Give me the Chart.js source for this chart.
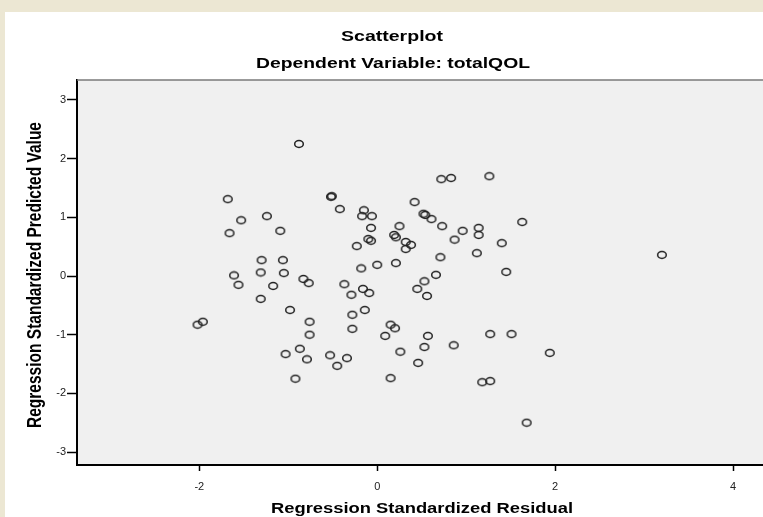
<!DOCTYPE html>
<html>
<head>
<meta charset="utf-8">
<script src="https://cdn.jsdelivr.net/npm/chart.js@4/dist/chart.umd.min.js"></script>
<style>
  body { margin: 0; background: #ece7d3; }
  #sheet { position: absolute; left: 5px; top: 12px; width: 758px; height: 505px; background: #fff; }
  #wrap { position: absolute; left: 0; top: 0; width: 763px; height: 517px; overflow: hidden; }
</style>
</head>
<body>
<div id="sheet"></div>
<div id="wrap"><canvas id="chart" width="775" height="517"></canvas></div>
<script>
// standardized residual (x) vs standardized predicted value (y)
const residuals = [
  -0.88, -1.68, -1.53, -1.66, -1.24, -1.09, -1.30, -1.06, -1.61, -1.31,
  -1.05, -1.56, -1.17, -1.31, -0.83, -0.77, -0.98, -2.02, -1.96, -0.76,
  -0.76, -0.87, -1.03, -0.79, -0.92, -0.52, -0.51, -0.42, -0.15, -0.17,
  -0.06, -0.07, 0.19, 0.21, -0.10, -0.07, -0.23, 0.25, 0.32, 0.38,
  0.32, 0.42, 0.52, 0.54, 0.61, 0.73, 0.72, 0.83, 1.26, 0.96,
  0.87, 1.14, 1.14, 1.12, 1.40, 1.63, 0.71, 0.00, -0.18, 0.21,
  1.45, 0.66, -0.37, -0.16, -0.09, -0.29, 0.53, 0.45, 0.56, -0.28,
  -0.14, -0.28, 0.15, 0.20, 0.09, 0.57, 0.53, 0.86, 1.27, 1.51,
  1.94, 0.26, 0.46, -0.53, -0.34, -0.45, 0.15, 1.18, 1.27, 1.68,
  3.20
]
const predicted = [
  2.25, 1.31, 0.95, 0.73, 1.02, 0.77, 0.27, 0.27, 0.01, 0.06,
  0.05, -0.15, -0.17, -0.39, -0.05, -0.12, -0.58, -0.83, -0.78, -0.78,
  -1.00, -1.24, -1.33, -1.42, -1.75, 1.35, 1.36, 1.14, 1.12, 1.02,
  1.02, 0.82, 0.70, 0.66, 0.63, 0.60, 0.51, 0.85, 0.58, 0.53,
  0.46, 1.26, 1.06, 1.04, 0.97, 0.85, 1.65, 1.67, 1.70, 0.77,
  0.62, 0.82, 0.70, 0.39, 0.56, 0.92, 0.32, 0.19, 0.13, 0.22,
  0.07, 0.02, -0.14, -0.22, -0.29, -0.32, -0.09, -0.22, -0.34, -0.66,
  -0.58, -0.90, -0.83, -0.89, -1.02, -1.02, -1.21, -1.18, -0.99, -0.99,
  -1.31, -1.29, -1.48, -1.35, -1.40, -1.53, -1.74, -1.81, -1.79, -2.50,
  0.36
]
const xTicks = [-2, 0, 2, 4]
const yTicks = [-3, -2, -1, 0, 1, 2, 3]

const points = residuals.map((x, i) => ({ x: x, y: predicted[i] }))
const font = "'Liberation Sans', Arial, sans-serif"

// the source picture is stretched sideways, so the markers are flat rings
const ring = document.createElement('canvas')
ring.width = 12
ring.height = 10
const rc = ring.getContext('2d')
rc.strokeStyle = '#222'
rc.lineWidth = 1.5
rc.beginPath()
rc.ellipse(6, 5, 4.3, 3.4, 0, 0, Math.PI * 2)
rc.stroke()

// write text squeezed/stretched to a given width
function wideText(ctx, text, x, y, width) {
  const w = ctx.measureText(text).width
  ctx.save()
  ctx.translate(x, y)
  ctx.scale(width / w, 1)
  ctx.fillText(text, 0, 0)
  ctx.restore()
}

// plot background, top frame line and the SPSS style titles
const frame = {
  id: 'frame',
  beforeDraw(chart) {
    const a = chart.chartArea
    const ctx = chart.ctx
    ctx.save()
    ctx.fillStyle = '#f0f0f0'
    ctx.fillRect(a.left, a.top, a.right - a.left, a.bottom - a.top)
    ctx.restore()
  },
  afterDraw(chart) {
    const a = chart.chartArea
    const ctx = chart.ctx
    ctx.save()
    ctx.strokeStyle = '#7a7a7a'
    ctx.lineWidth = 1.5
    ctx.beginPath()
    ctx.moveTo(a.left, a.top)
    ctx.lineTo(a.right, a.top)
    ctx.stroke()

    ctx.fillStyle = '#000'
    ctx.textAlign = 'center'
    ctx.textBaseline = 'middle'
    ctx.font = 'bold 14.5px ' + font
    wideText(ctx, 'Scatterplot', 392, 37, 102)
    wideText(ctx, 'Dependent Variable: totalQOL', 393, 64, 274)
    wideText(ctx, 'Regression Standardized Residual', 422, 509, 302)

    // y title: long side unscaled, glyphs widened like the rest
    ctx.font = 'bold 15.5px ' + font
    const label = 'Regression Standardized Predicted Value'
    const w = ctx.measureText(label).width
    ctx.translate(35, 275)
    ctx.scale(1.3, 306 / w)
    ctx.rotate(-Math.PI / 2)
    ctx.fillText(label, 0, 0)
    ctx.restore()
  }
}

new Chart(document.getElementById('chart'), {
  type: 'scatter',
  data: {
    datasets: [{
      data: points,
      pointStyle: ring,
      pointRadius: 5,
      borderColor: '#222',
      backgroundColor: 'rgba(0,0,0,0)'
    }]
  },
  options: {
    responsive: false,
    devicePixelRatio: 1,
    animation: false,
    layout: { padding: { top: 80, left: 0, right: 0, bottom: 0 } },
    plugins: { legend: { display: false }, tooltip: { enabled: false } },
    scales: {
      x: {
        type: 'linear',
        min: -3.375,
        max: 4.404,
        afterFit: (s) => { s.height = 52 },
        afterBuildTicks: (s) => { s.ticks = xTicks.map(v => ({ value: v })) },
        ticks: { font: { family: font, size: 11 }, color: '#222', padding: 9 },
        grid: { drawOnChartArea: false, tickLength: 6, tickColor: '#000', tickWidth: 1.5 },
        border: { color: '#000', width: 2 }
      },
      y: {
        type: 'linear',
        min: -3.22,
        max: 3.34,
        afterFit: (s) => { s.width = 77 },
        afterBuildTicks: (s) => { s.ticks = yTicks.map(v => ({ value: v })) },
        ticks: { font: { family: font, size: 11 }, color: '#222', padding: 1 },
        grid: { drawOnChartArea: false, tickLength: 10, tickColor: '#000', tickWidth: 1.5 },
        border: { color: '#000', width: 2 }
      }
    }
  },
  plugins: [frame]
})
</script>
</body>
</html>
